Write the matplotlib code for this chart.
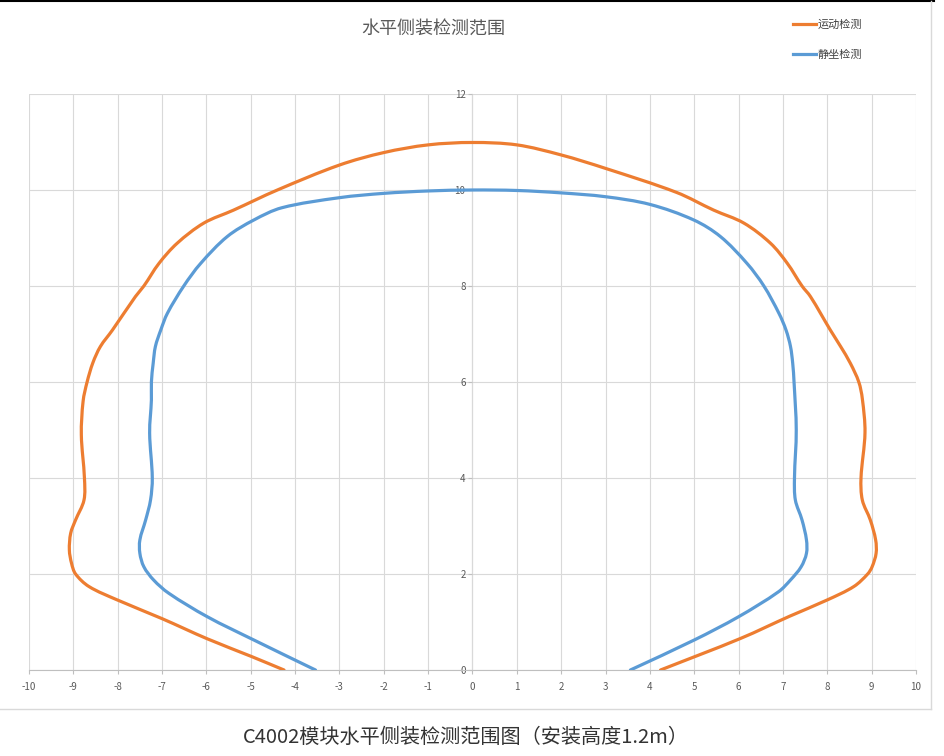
import numpy as np
import matplotlib
matplotlib.use("Agg")
import matplotlib.pyplot as plt
from matplotlib.path import Path
from matplotlib.patches import PathPatch
from matplotlib.lines import Line2D

plt.rcParams['font.family'] = ['Noto Sans CJK SC', 'DejaVu Sans']
plt.rcParams['axes.unicode_minus'] = False

title = "水平侧装检测范围"
caption = "C4002模块水平侧装检测范围图（安装高度1.2m）"
series_names = ["运动检测", "静坐检测"]

# 运动检测 (orange), traced bottom-left -> top -> bottom-right
move_x = [-4.25, -4.98, -5.98, -7.0, -8.01, -8.65, -8.95, -9.04, -9.09, -9.06,
          -8.95, -8.76, -8.75, -8.82, -8.78, -8.69, -8.56, -8.39, -8.12, -7.6,
          -7.41, -7.07, -6.66, -6.06, -5.39, -4.4, -3.0, -2.0, -1.0, 0.0,
          1.0, 2.0, 3.0, 4.6, 5.44, 6.12, 6.72, 7.1, 7.43, 7.62,
          8.07, 8.30, 8.52, 8.71, 8.79, 8.85, 8.76, 8.79, 8.97, 9.09,
          9.10, 9.01, 8.91, 8.6, 8.0, 7.15, 6.05, 4.24]
move_y = [0.0, 0.28, 0.65, 1.07, 1.46, 1.74, 2.0, 2.22, 2.5, 2.85,
          3.125, 3.54, 4.0, 4.9, 5.6, 6.0, 6.4, 6.74, 7.08, 7.78,
          8.0, 8.47, 8.89, 9.31, 9.58, 10.0, 10.52, 10.78, 10.94, 10.99,
          10.94, 10.73, 10.45, 9.95, 9.58, 9.31, 8.89, 8.47, 8.0, 7.78,
          7.08, 6.74, 6.39, 6.0, 5.65, 4.95, 4.0, 3.54, 3.125, 2.71,
          2.43, 2.15, 2.0, 1.74, 1.46, 1.12, 0.66, 0.0]

# 静坐检测 (blue)
sit_x = [-3.54, -4.93, -5.98, -6.85, -7.19, -7.41, -7.5, -7.5, -7.37, -7.26,
         -7.22, -7.28, -7.24, -7.24, -7.2, -7.15, -7.03, -6.88, -6.51, -6.13,
         -5.53, -4.93, -4.3, -3.0, -2.0, -1.0, 0.0, 1.0, 2.0, 3.0,
         4.0, 4.99, 5.59, 6.19, 6.57, 6.91, 7.07, 7.17, 7.22, 7.25,
         7.3, 7.26, 7.28, 7.43, 7.53, 7.53, 7.41, 7.17, 6.9, 6.0,
         5.0, 3.56]
sit_y = [0.0, 0.625, 1.11, 1.6, 1.875, 2.15, 2.43, 2.71, 3.125, 3.54,
         4.0, 4.94, 5.625, 6.0, 6.39, 6.74, 7.08, 7.43, 8.0, 8.47,
         9.03, 9.375, 9.63, 9.84, 9.93, 9.98, 10.0, 9.99, 9.94, 9.86,
         9.70, 9.375, 9.03, 8.47, 8.0, 7.43, 7.08, 6.74, 6.39, 6.0,
         5.0, 4.0, 3.54, 3.125, 2.71, 2.43, 2.15, 1.875, 1.63, 1.11,
         0.625, 0.0]

colors = ["#ED7D31", "#5B9BD5"]
x_ticks = list(range(-10, 11))
y_ticks = [0, 2, 4, 6, 8, 10, 12]


def smooth_path(xs, ys):
    # cubic bezier through the points (Excel-like smoothed line),
    # tangents scaled by chord length so uneven spacing doesn't kink
    pts = np.column_stack([xs, ys]).astype(float)
    scale = np.array([44.35, 48.0])
    n = len(pts)
    d = np.linalg.norm(np.diff(pts * scale, axis=0), axis=1)
    tang = np.zeros_like(pts)
    for i in range(n):
        if i == 0:
            tang[i] = (pts[1] - pts[0]) / d[0]
        elif i == n - 1:
            tang[i] = (pts[-1] - pts[-2]) / d[-1]
        else:
            tang[i] = (pts[i + 1] - pts[i - 1]) / (d[i - 1] + d[i])
    verts = [pts[0]]
    codes = [Path.MOVETO]
    for i in range(n - 1):
        h = d[i] / 3
        verts += [pts[i] + tang[i] * h, pts[i + 1] - tang[i + 1] * h, pts[i + 1]]
        codes += [Path.CURVE4] * 3
    return Path(verts, codes)


fig = plt.figure(figsize=(9.45, 7.56), dpi=100)
ax = fig.add_axes([29 / 945, 86 / 756, 887 / 945, 576 / 756])

ax.set_xlim(-10, 10)
ax.set_ylim(0, 12)
ax.set_xticks(x_ticks)
ax.set_yticks(y_ticks)
ax.grid(True, color="#d9d9d9", lw=0.8)
ax.set_axisbelow(True)

for s in ["top", "right"]:
    ax.spines[s].set_visible(False)
ax.spines["left"].set_position(("data", 0))
ax.spines["left"].set_color("#bfbfbf")
ax.spines["bottom"].set_color("#bfbfbf")
ax.spines["left"].set_zorder(0.5)
ax.tick_params(axis="both", colors="#bfbfbf", labelcolor="#595959",
               labelsize=7, length=3, width=0.8, pad=2)
ax.tick_params(axis="x", pad=6)

for xs, ys, c in [(move_x, move_y, colors[0]), (sit_x, sit_y, colors[1])]:
    ax.add_patch(PathPatch(smooth_path(xs, ys), fill=False, edgecolor=c,
                           lw=2.3, capstyle="round", joinstyle="round", zorder=3))

handles = [Line2D([], [], color=colors[0], lw=2.3),
           Line2D([], [], color=colors[1], lw=2.3)]
fig.legend(handles, series_names, loc="upper left",
           bbox_to_anchor=(783 / 945, 1 - 10 / 756), frameon=False,
           fontsize=8, labelspacing=1.75, handlelength=2.1,
           handletextpad=0.15, labelcolor="#404040")

fig.text(433 / 945, 1 - 29 / 756, title, ha="center", va="center",
         fontsize=13, color="#595959")
fig.text(466 / 945, 1 - 737 / 756, caption, ha="center", va="center",
         fontsize=14.5, color="#333333")

# outer frame bits of the screenshot
fig.add_artist(Line2D([0, 934 / 945], [1 - 1 / 756] * 2, color="black",
                      lw=1.5, transform=fig.transFigure))
fig.add_artist(Line2D([931 / 945] * 2, [1 - 1 / 756, 1 - 709 / 756],
                      color="#d9d9d9", lw=1, transform=fig.transFigure))
fig.add_artist(Line2D([0, 931 / 945], [1 - 709 / 756] * 2,
                      color="#d9d9d9", lw=1, transform=fig.transFigure))

fig.savefig("out.png", dpi=100)
